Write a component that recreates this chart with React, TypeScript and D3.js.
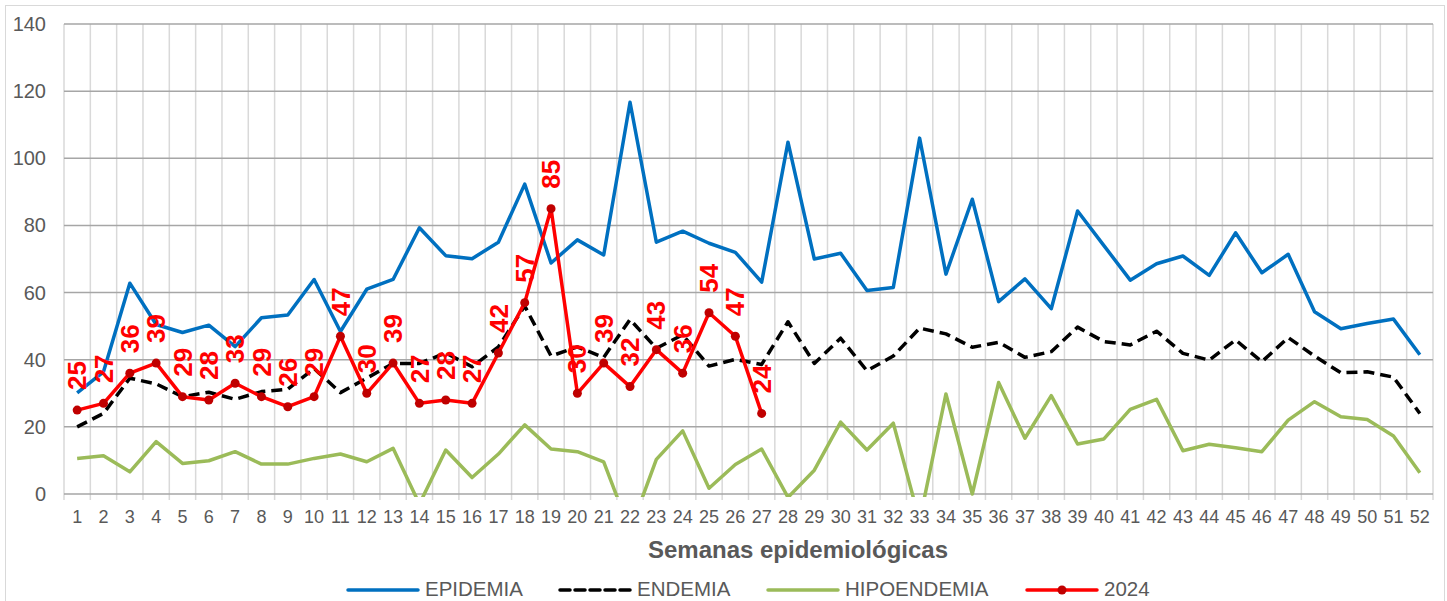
import React from 'react'
import * as d3 from 'd3'

const weeks = d3.range(1, 53).map(String)
const yTicks = [0, 20, 40, 60, 80, 100, 120, 140]

const epidemia = [30.1, 36.4, 62.8, 50.5, 48.1, 50.3, 43.9, 52.5, 53.3, 63.9, 48.4, 61, 63.9, 79.3, 71, 70.1, 75, 92.3, 68.8, 75.7, 71.2, 116.7, 75, 78.3, 74.7, 72, 63.1, 104.8, 70, 71.7, 60.6, 61.5, 106, 65.5, 87.8, 57.3, 64.1, 55.2, 84.3, 74, 63.7, 68.6, 70.9, 65.1, 77.8, 65.9, 71.4, 54.3, 49.2, 50.8, 52.1, 41.5]
const endemia = [20, 24, 34.5, 32.8, 29, 30.3, 28.2, 30.5, 31.2, 37.4, 30.2, 34.5, 38.9, 38.9, 42, 37.9, 43.8, 56, 41.1, 43.8, 40.7, 52, 43.4, 47.4, 38.1, 40.1, 38.6, 51.3, 38.9, 46.4, 36.7, 41.1, 49.4, 47.7, 43.7, 45.2, 40.7, 42.4, 49.7, 45.4, 44.4, 48.5, 41.9, 39.9, 45.9, 39.4, 46.6, 41.1, 36.1, 36.4, 34.8, 24]
const hipoendemia = [10.6, 11.4, 6.6, 15.6, 9.1, 9.9, 12.6, 8.9, 8.9, 10.6, 11.9, 9.6, 13.6, -3, 13.1, 4.9, 11.9, 20.6, 13.4, 12.6, 9.6, -11, 10.3, 18.8, 1.7, 8.8, 13.4, -1, 7.1, 21.4, 13.1, 21.1, -8, 29.8, 0, 33.2, 16.6, 29.3, 14.9, 16.4, 25.2, 28.2, 12.9, 14.8, 13.8, 12.6, 22, 27.5, 23, 22.2, 17.3, 6.3]
const y2024 = [25, 27, 36, 39, 29, 28, 33, 29, 26, 29, 47, 30, 39, 27, 28, 27, 42, 57, 85, 30, 39, 32, 43, 36, 54, 47, 24]

const legendItems = [
  { name: 'EPIDEMIA', color: '#0070c0', dash: null, marker: false, w: 100 },
  { name: 'ENDEMIA', color: '#000000', dash: '10,5', marker: false, w: 96 },
  { name: 'HIPOENDEMIA', color: '#9bbb59', dash: null, marker: false, w: 147 },
  { name: '2024', color: '#ff0000', dash: null, marker: true, w: 46 },
]

const W = 1447
const H = 601
const left = 64
const right = 1433
const top = 24
const bottom = 494
const font = 'Arial, "Liberation Sans", sans-serif'
const grey = '#595959'

export default function App() {
  const x = d3.scaleBand<string>().domain(weeks).range([left, right]).padding(0)
  const bw = x.bandwidth()
  const cx = (i: number) => (x(weeks[i]) as number) + bw / 2
  const y = d3.scaleLinear().domain([0, 140]).range([bottom, top])

  const line = d3.line<number>().x((_, i) => cx(i)).y(d => y(d))

  // legend layout
  const lineLen = 70
  let lx = 348
  const legend = legendItems.map(it => {
    const o = { ...it, x: lx }
    lx += lineLen + 7 + it.w + 35
    return o
  })

  return (
    <div style={{ position: 'absolute', left: 0, top: 0 }}>
      <svg width={W} height={H} style={{ display: 'block', fontFamily: font }}>
        <defs>
          <clipPath id="plot">
            <rect x={left} y={0} width={right - left} height={bottom + 3} />
          </clipPath>
        </defs>
        <rect x={0} y={0} width={W} height={H} fill="#fff" />
        <rect x={5.5} y={5.5} width={W - 8} height={H} fill="none" stroke="#d9d9d9" strokeWidth={1} />

        {/* vertical grid + ticks */}
        {d3.range(0, 53).map(i => {
          const gx = i < 52 ? (x(weeks[i]) as number) : right
          return <line key={'v' + i} x1={gx} x2={gx} y1={top} y2={bottom + 6} stroke="#d9d9d9" strokeWidth={1.5} />
        })}
        {/* horizontal grid */}
        {yTicks.map(t => (
          <line key={'h' + t} x1={left} x2={right} y1={y(t)} y2={y(t)} stroke="#a6a6a6" strokeWidth={1.5} />
        ))}

        {/* y labels */}
        {yTicks.map(t => (
          <text key={'yl' + t} x={46} y={y(t) + 7} textAnchor="end" fontSize={20} fill={grey}>{t}</text>
        ))}
        {/* x labels */}
        {weeks.map((w, i) => (
          <text key={'xl' + w} x={cx(i)} y={523} textAnchor="middle" fontSize={18} fill={grey}>{w}</text>
        ))}

        <g clipPath="url(#plot)" fill="none" strokeLinejoin="round">
          <path d={line(epidemia) || ''} stroke="#0070c0" strokeWidth={3.5} />
          <path d={line(endemia) || ''} stroke="#000" strokeWidth={3.5} strokeDasharray="11,6" />
          <path d={line(hipoendemia) || ''} stroke="#9bbb59" strokeWidth={3.5} />
          <path d={line(y2024) || ''} stroke="#ff0000" strokeWidth={3.5} />
        </g>
        {y2024.map((v, i) => (
          <circle key={'m' + i} cx={cx(i)} cy={y(v)} r={4.5} fill="#c00000" />
        ))}
        {y2024.map((v, i) => (
          <text
            key={'dl' + i}
            transform={`translate(${cx(i)},${y(v) - 20}) rotate(-90)`}
            dy="0.35em"
            fontSize={26}
            fontWeight="bold"
            fill="#ff0000"
          >{v}</text>
        ))}

        <text x={798} y={558} textAnchor="middle" fontSize={24} fontWeight="bold" fill={grey}>Semanas epidemiológicas</text>

        {legend.map(it => (
          <g key={it.name}>
            <line x1={it.x} x2={it.x + lineLen} y1={590} y2={590} stroke={it.color} strokeWidth={3.5}
              strokeDasharray={it.dash || undefined} strokeLinecap="round" />
            {it.marker && <circle cx={it.x + lineLen / 2} cy={590} r={4.5} fill="#c00000" />}
            <text x={it.x + lineLen + 7} y={596} fontSize={20.5} fill={grey}>{it.name}</text>
          </g>
        ))}
      </svg>
    </div>
  )
}
